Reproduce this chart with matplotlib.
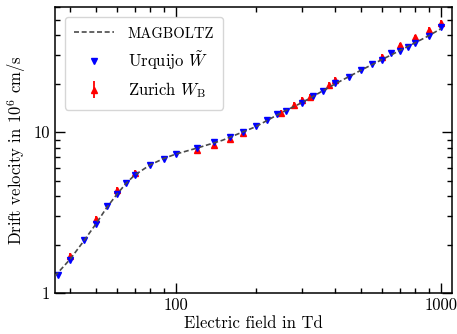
import matplotlib
matplotlib.use("Agg")
import matplotlib.pyplot as plt
from matplotlib.ticker import LogLocator, NullFormatter, FixedLocator, FixedFormatter
import numpy as np

plt.rcParams['font.family'] = 'serif'
plt.rcParams['font.serif'] = ['cmr10']
plt.rcParams['mathtext.fontset'] = 'cm'
plt.rcParams['axes.formatter.use_mathtext'] = True

# MAGBOLTZ simulation
mag_x = [35, 40, 45, 50, 55, 60, 65, 70, 80, 90, 100, 120, 150, 200, 250, 300, 400, 500, 600, 700, 800, 900, 1000]
mag_y = [1.27, 1.62, 2.1, 2.68, 3.4, 4.1, 4.8, 5.4, 6.25, 6.85, 7.3, 7.95, 8.9, 10.8, 13.2, 15.3, 20.0, 24.3, 28.3, 32.2, 36.0, 39.8, 44.0]

# Urquijo W~
urq_x = [36, 40, 45, 50, 55, 60, 65, 70, 80, 90, 100, 120, 140, 160, 180, 200, 220, 240, 260, 300, 330, 360, 400,
         450, 500, 550, 600, 650, 700, 750, 800, 900, 1000]
urq_y = [1.30, 1.60, 2.13, 2.70, 3.46, 4.15, 4.84, 5.45, 6.29, 6.82, 7.33, 7.99, 8.63, 9.35, 10.0, 10.9, 11.9, 12.9,
         13.6, 15.2, 16.8, 18.1, 20.1, 22.1, 24.3, 26.4, 28.1, 30.9, 32.1, 34.0, 36.0, 39.6, 44.8]

# Zurich W_B
zur_x = [40, 50, 60, 70, 120, 140, 160, 180, 250, 280, 300, 320, 380, 400, 600, 700, 800, 900, 1000]
zur_y = [1.70, 2.87, 4.36, 5.58, 7.73, 8.38, 9.1, 9.9, 13.1, 14.8, 15.9, 16.6, 19.7, 21.0, 29.4, 34.6, 38.8, 43.3, 47.5]
zur_err = [0.08, 0.13, 0.2, 0.25, 0.33, 0.36, 0.39, 0.42, 0.55, 0.62, 0.66, 0.7, 0.83, 0.88, 1.23, 1.45, 1.63, 1.82, 2.0]

xticks = [100, 1000]
xticklabels = ["100", "1000"]
yticks = [1, 10]
yticklabels = ["1", "10"]

fig = plt.figure(figsize=(4.57, 3.34), dpi=100)
ax = fig.add_axes([0.1204, 0.1228, 0.989 - 0.1204, 0.979 - 0.1228])

ax.plot(mag_x, mag_y, ls=(0, (3, 1.6)), color='#4a4a4a', lw=1.2, label='MAGBOLTZ', zorder=3)
ax.plot(urq_x, urq_y, ls='none', marker='v', color='#0000ff', ms=4.8, label=r'Urquijo $\tilde{W}$', zorder=2)
ax.errorbar(zur_x, zur_y, yerr=zur_err, fmt='^', color='#ff0000', ms=4.8, elinewidth=1.3, capsize=0,
            label=r'Zurich $W_\mathrm{B}$', zorder=1)

ax.set_xscale('log')
ax.set_yscale('log')
ax.set_xlim(35.1, 1100)
ax.set_ylim(1, 60)

ax.xaxis.set_major_locator(FixedLocator(xticks))
ax.xaxis.set_major_formatter(FixedFormatter(xticklabels))
ax.yaxis.set_major_locator(FixedLocator(yticks))
ax.yaxis.set_major_formatter(FixedFormatter(yticklabels))
ax.xaxis.set_minor_locator(LogLocator(base=10, subs=np.arange(2, 10), numticks=20))
ax.yaxis.set_minor_locator(LogLocator(base=10, subs=np.arange(2, 10), numticks=20))
ax.xaxis.set_minor_formatter(NullFormatter())
ax.yaxis.set_minor_formatter(NullFormatter())

ax.tick_params(which='both', direction='in', top=True, right=True, labelsize=12, width=1, color='black')
ax.tick_params(which='major', length=7)
ax.tick_params(which='minor', length=3.5)
for s in ax.spines.values():
    s.set_linewidth(1.1)

ax.set_xlabel('Electric field in Td', fontsize=12, labelpad=2)
ax.set_ylabel(r'Drift velocity in $10^6$ cm/s', fontsize=12, labelpad=4)

leg = ax.legend(loc='upper left', fontsize=12, numpoints=1, handlelength=2.4, borderaxespad=0.6,
                labelspacing=0.5, handletextpad=0.8, borderpad=0.55)
leg.get_texts()[0].set_fontsize(10.5)

fig.savefig('out.png', dpi=100)
